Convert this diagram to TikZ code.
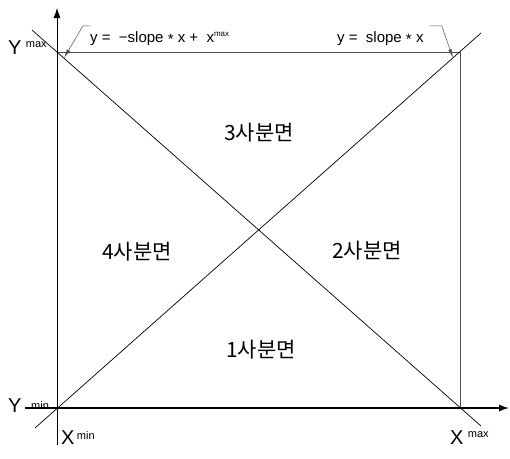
\documentclass[tikz,border=0pt]{standalone}
\usepackage{fontspec}
\setmainfont{Liberation Sans}
\newfontfamily\krfont{Noto Sans CJK KR}
\usepackage{tikz}
\usetikzlibrary{arrows.meta}
\tikzset{
  xaxis/.style={line width=1.3pt,-{Latex[length=10pt,width=7pt]}},
  yaxis/.style={line width=0.8pt,-{Latex[length=10pt,width=7pt]}},
  diag/.style={line width=0.7pt},
  bound/.style={line width=0.6pt,draw=black!70},
  leader/.style={line width=0.5pt,draw=black!70,-{Latex[length=9pt,width=3.5pt]}},
  quad/.style={font=\krfont\fontsize{21}{21}\selectfont,inner sep=0pt},
  eqn/.style={font=\fontsize{15}{15}\selectfont,inner sep=0pt},
  big/.style={font=\fontsize{20}{20}\selectfont,inner sep=0pt},
  tiny/.style={font=\fontsize{11}{11}\selectfont,inner sep=0pt}
}

\begin{document}
\begin{tikzpicture}[x=1pt,y=-1pt]
  \useasboundingbox (0,0) rectangle (510,458);
  \coordinate (O) at (57,408);
  \coordinate (ytop) at (57,8);
  \coordinate (ybot) at (57,445);
  \coordinate (xleft) at (25,408);
  \coordinate (xright) at (509,408);
  \coordinate (tl) at (57,52);
  \coordinate (tr) at (460,52);
  \coordinate (br) at (460,408);
  \coordinate (d1a) at (35,428);
  \coordinate (d1b) at (481,33);
  \coordinate (d2a) at (32,30);
  \coordinate (d2b) at (481,426);
  \coordinate (hitL) at (64,58);
  \coordinate (hitR) at (453,58);

  \draw[bound] (tl) -- (tr) -- (br);
  \draw[diag] (d1a) -- (d1b);
  \draw[diag] (d2a) -- (d2b);
  \draw[xaxis] (xleft) -- (xright);
  \draw[yaxis] (ybot) -- (ytop);

  \node[big,anchor=west] (ymaxY) at (8,48) {Y};
  \node[tiny,anchor=north west] (ymaxT) at ([xshift=4pt]ymaxY.north east) {max};
  \node[big,anchor=west] (yminY) at (8,406) {Y};
  \node[tiny,anchor=west] (yminT) at (31,406) {min};
  \node[big,anchor=west] (xminX) at (61,438) {X};
  \node[tiny,anchor=north west] (xminT) at ([xshift=2pt]xminX.north east) {min};
  \node[big,anchor=west] (xmaxX) at (450,438) {X};
  \node[tiny,anchor=north west] (xmaxT) at ([xshift=4pt]xmaxX.north east) {max};

  \node[eqn,anchor=west] (eqL) at (90,39)
    {y =\ \ −slope \raisebox{-2pt}{*} x +\ \ x\raisebox{6pt}{\fontsize{8}{8}\selectfont max}};
  \node[eqn,anchor=west] (eqR) at (337,39)
    {y =\ \ slope \raisebox{-2pt}{*} x};
  \draw[leader] ([yshift=6pt]eqL.north west) -- ++(-7,0) -- (hitL);
  \draw[leader] ([xshift=6pt,yshift=6pt]eqR.north east) -- ++(12,0) -- (hitR);

  \node[quad] (q3) at (259,133) {3사분면};
  \node[quad] (q4) at (137,252) {4사분면};
  \node[quad] (q2) at (367,251) {2사분면};
  \node[quad] (q1) at (261,350) {1사분면};
\end{tikzpicture}
\end{document}
